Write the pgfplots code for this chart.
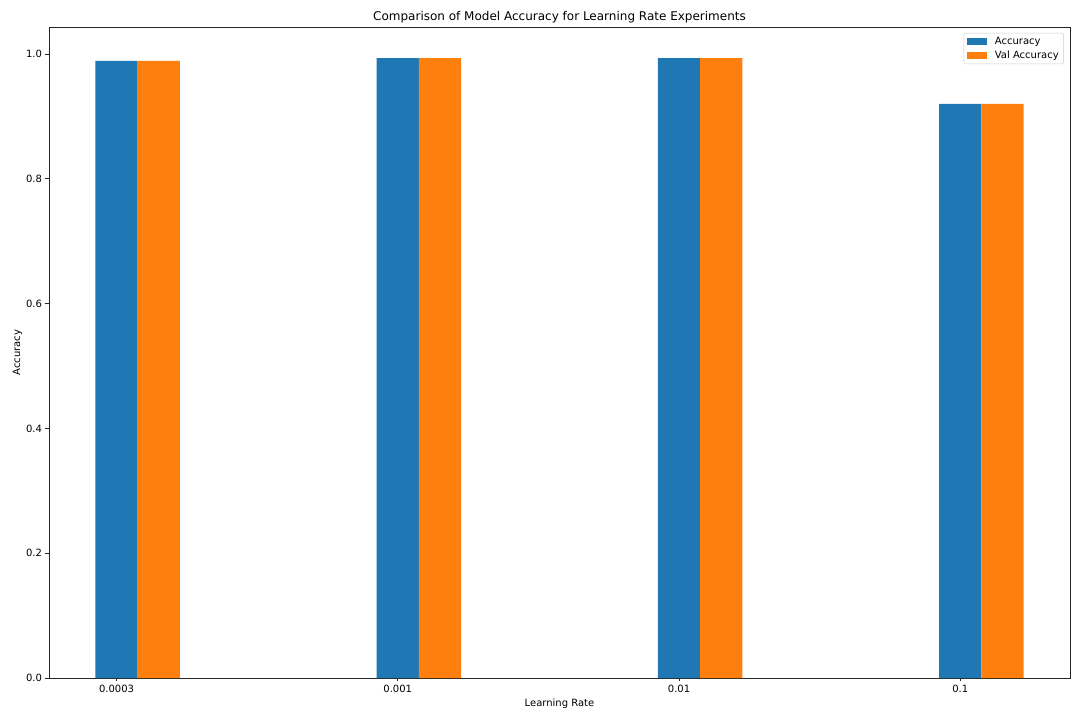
\documentclass[border=0pt]{standalone}
\usepackage{pgfplots}
\pgfplotsset{compat=1.18}
\usepackage{fontspec}
\setmainfont{DejaVu Sans}
\definecolor{mplblue}{HTML}{1F77B4}
\definecolor{mplorange}{HTML}{FF7F0E}
\begin{document}
\begin{tikzpicture}
\useasboundingbox (0,0) rectangle (1080bp,720bp);
\begin{axis}[
    at={(49bp,42bp)}, anchor=south west,
    scale only axis,
    width=1021bp, height=651bp,
    xmin=-0.24, xmax=3.39,
    ymin=0, ymax=1.0433,
    axis line style={draw=black!85, line width=0.8pt},
    tick style={black!85, line width=0.8pt},
    tick align=outside,
    major tick length=3.5bp,
    xtick pos=bottom, ytick pos=left,
    xtick={0,1,2,3},
    xticklabels={0.0003,0.001,0.01,0.1},
    ytick={0,0.2,0.4,0.6,0.8,1.0},
    yticklabel style={/pgf/number format/fixed, /pgf/number format/fixed zerofill, /pgf/number format/precision=1},
    /pgf/number format/assume math mode=true,
    ticklabel style={font=\fontsize{10bp}{12bp}\selectfont},
    xlabel={Learning Rate},
    ylabel={Accuracy},
    label style={font=\fontsize{10bp}{12bp}\selectfont},
    xlabel style={yshift=1bp},
    ylabel style={yshift=-3bp},
    title={Comparison of Model Accuracy for Learning Rate Experiments},
    title style={font=\fontsize{12bp}{14bp}\selectfont, yshift=-6bp},
    legend style={at={(0.994,0.991)}, anchor=north east, draw=black!20, rounded corners=2bp,
        font=\fontsize{10bp}{12bp}\selectfont, row sep=1bp, inner xsep=3bp, inner ysep=2bp},
    legend cell align=left,
    legend image code/.code={\fill[#1, sharp corners] (0bp,-3.5bp) rectangle (20bp,3.5bp);
        \path (26bp,0bp);},
]
\addplot[ybar, bar width=0.15, bar shift=0, fill=mplblue, draw=none] coordinates {
    (0,0.989) (1,0.9936) (2,0.9936) (3,0.920)
};
\addlegendentry{Accuracy}
\addplot[ybar, bar width=0.15, bar shift=0, fill=mplorange, draw=none] coordinates {
    (0.15,0.989) (1.15,0.9936) (2.15,0.9936) (3.15,0.920)
};
\addlegendentry{Val Accuracy}
\end{axis}
\end{tikzpicture}
\end{document}
